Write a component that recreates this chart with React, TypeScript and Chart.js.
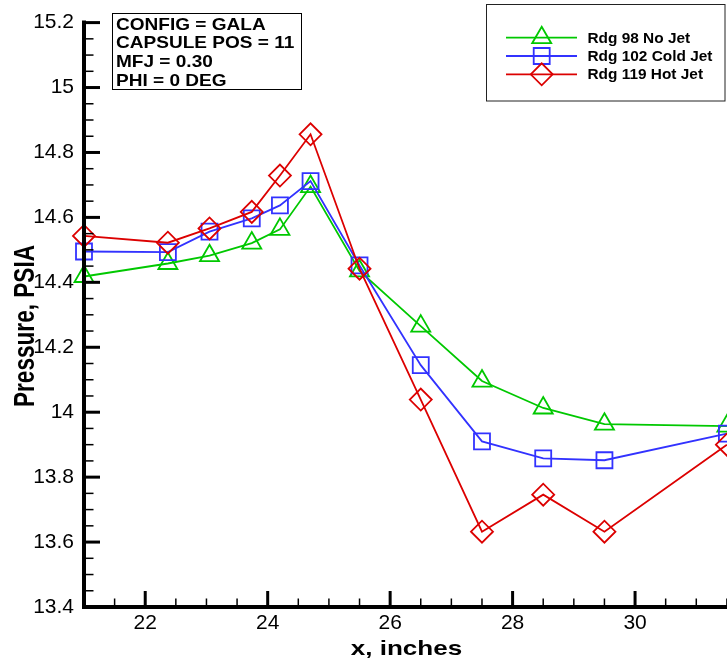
import React, { useEffect, useRef } from 'react';
import { Chart, registerables } from 'chart.js';

Chart.register(...registerables);

// Axial station of each pressure tap, inches
const xInches = [21, 22.37, 23.05, 23.74, 24.2, 24.7, 25.5, 26.5, 27.5, 28.5, 29.5, 31.5];

// Measured pressures, PSIA
const rdg98NoJet = [14.418, 14.458, 14.482, 14.521, 14.563, 14.695, 14.435, 14.265, 14.096, 14.013, 13.963, 13.957];
const rdg102ColdJet = [14.495, 14.493, 14.556, 14.597, 14.637, 14.712, 14.452, 14.145, 13.91, 13.858, 13.852, 13.934];
const rdg119HotJet = [14.543, 14.522, 14.566, 14.617, 14.729, 14.856, 14.442, 14.039, 13.632, 13.746, 13.632, 13.9];

const seriesLabels = ['Rdg 98 No Jet', 'Rdg 102 Cold Jet', 'Rdg 119 Hot Jet'];
const seriesColors = ['rgb(0,200,0)', 'rgb(50,50,255)', 'rgb(220,0,0)'];
const seriesMarkers = ['triangle', 'rect', 'rectRot'];
const seriesMarkerRadius = [11, 11.3, 11];

const infoLines = ['CONFIG = GALA', 'CAPSULE POS = 11', 'MFJ = 0.30', 'PHI = 0 DEG'];
const xTitle = 'x, inches';
const yTitle = 'Pressure, PSIA';

const xRange = [21, 31.5];
const yRange = [13.4, 15.2];
const xMinorStep = 0.5;
const yMinorStep = 0.05;

const FONT = '"Liberation Sans", Arial, Helvetica, sans-serif';

const isMajorX = (v: number) => Math.abs(v - Math.round(v)) < 1e-6 && Math.round(v) % 2 === 0;
const isMajorY = (v: number) => Math.abs(v * 5 - Math.round(v * 5)) < 1e-6;

function drawMarker(ctx: CanvasRenderingContext2D, style: string, x: number, y: number, r: number) {
  ctx.beginPath();
  if (style === 'triangle') {
    const a1 = (2 * Math.PI) / 3;
    const a2 = (4 * Math.PI) / 3;
    ctx.moveTo(x, y - r);
    ctx.lineTo(x + r * Math.sin(a1), y - r * Math.cos(a1));
    ctx.lineTo(x + r * Math.sin(a2), y - r * Math.cos(a2));
    ctx.closePath();
  } else if (style === 'rect') {
    const s = r * Math.SQRT1_2;
    ctx.rect(x - s, y - s, 2 * s, 2 * s);
  } else {
    ctx.moveTo(x - r, y);
    ctx.lineTo(x, y - r);
    ctx.lineTo(x + r, y);
    ctx.lineTo(x, y + r);
    ctx.closePath();
  }
  ctx.stroke();
}

function stretchedText(
  ctx: CanvasRenderingContext2D,
  text: string,
  x: number,
  y: number,
  font: string,
  sx: number,
  align: CanvasTextAlign = 'left',
  rotate = 0
) {
  ctx.save();
  ctx.translate(x, y);
  ctx.scale(sx, 1);
  if (rotate) ctx.rotate(rotate);
  ctx.font = font;
  ctx.textAlign = align;
  ctx.textBaseline = 'alphabetic';
  ctx.fillStyle = '#000';
  ctx.fillText(text, 0, 0);
  ctx.restore();
}

// Inward tick marks, heavy axes, titles, info box and legend
const decorations = {
  id: 'decorations',
  afterDatasetsDraw(chart: any) {
    const { ctx, chartArea: a, scales } = chart;
    const xs = scales.x;
    const ys = scales.y;
    ctx.save();
    ctx.strokeStyle = '#000';
    ctx.lineCap = 'butt';
    xs.ticks.forEach((t: any) => {
      if (t.value <= xRange[0]) return;
      const px = xs.getPixelForValue(t.value);
      const major = isMajorX(t.value);
      ctx.lineWidth = major ? 3 : 1.5;
      ctx.beginPath();
      ctx.moveTo(px, a.bottom);
      ctx.lineTo(px, a.bottom - (major ? 16 : 8.5));
      ctx.stroke();
    });
    ys.ticks.forEach((t: any) => {
      if (t.value <= yRange[0] + 1e-9) return;
      const py = ys.getPixelForValue(t.value);
      const major = isMajorY(t.value);
      ctx.lineWidth = major ? 3 : 1.5;
      ctx.beginPath();
      ctx.moveTo(a.left, py);
      ctx.lineTo(a.left + (major ? 16 : 9.5), py);
      ctx.stroke();
    });
    ctx.lineWidth = 4;
    ctx.lineCap = 'square';
    ctx.beginPath();
    ctx.moveTo(a.left, a.top);
    ctx.lineTo(a.left, a.bottom);
    ctx.lineTo(a.right + 20, a.bottom);
    ctx.stroke();
    ctx.restore();
  },
  afterDraw(chart: any) {
    const { ctx, chartArea: a } = chart;
    ctx.save();

    // axis titles
    stretchedText(ctx, xTitle, (a.left + a.right) / 2 + 1, 655, `bold 21px ${FONT}`, 1.24, 'center');
    stretchedText(ctx, yTitle, 33.5, 326, `bold 22.6px ${FONT}`, 1.27, 'center', -Math.PI / 2);

    // run conditions box
    ctx.strokeStyle = '#000';
    ctx.lineWidth = 1;
    ctx.strokeRect(112.5, 13.5, 189, 76);
    infoLines.forEach((line, i) => {
      stretchedText(ctx, line, 116, 29.5 + i * 18.7, `bold 17px ${FONT}`, 1.12);
    });

    // legend
    ctx.strokeStyle = '#222';
    ctx.lineWidth = 1;
    ctx.strokeRect(486.5, 4.5, 238.5, 96.5);
    seriesLabels.forEach((label, i) => {
      const ly = 37.7 + i * 18.3;
      ctx.strokeStyle = seriesColors[i];
      ctx.lineWidth = 1.8;
      ctx.beginPath();
      ctx.moveTo(506, ly);
      ctx.lineTo(577, ly);
      ctx.stroke();
      ctx.lineWidth = 1.8;
      drawMarker(ctx, seriesMarkers[i], 541.7, ly, seriesMarkerRadius[i]);
      stretchedText(ctx, label, 587.5, ly + 5, `bold 14px ${FONT}`, 1.1);
    });
    ctx.restore();
  },
};

function toPoints(ys: number[]) {
  return ys.map((y, i) => ({ x: xInches[i], y }));
}

export default function App() {
  const canvasRef = useRef<HTMLCanvasElement | null>(null);

  useEffect(() => {
    if (!canvasRef.current) return;
    Chart.defaults.font.family = FONT;
    const series = [rdg98NoJet, rdg102ColdJet, rdg119HotJet];
    const chart = new Chart(canvasRef.current, {
      type: 'line',
      data: {
        datasets: series.map((ys, i) => ({
          label: seriesLabels[i],
          data: toPoints(ys),
          borderColor: seriesColors[i],
          borderWidth: 1.8,
          pointStyle: seriesMarkers[i] as any,
          pointRadius: seriesMarkerRadius[i],
          pointBorderColor: seriesColors[i],
          pointBackgroundColor: 'rgba(0,0,0,0)',
          pointBorderWidth: 1.8,
          tension: 0,
          fill: false,
          clip: false as any,
          order: 3 - i,
        })),
      },
      options: {
        animation: false,
        responsive: false,
        events: [],
        layout: { padding: { top: 17, right: 8, left: 0, bottom: 0 } },
        plugins: {
          legend: { display: false },
          tooltip: { enabled: false },
          title: { display: false },
        },
        scales: {
          x: {
            type: 'linear',
            min: xRange[0],
            max: xRange[1],
            grid: { display: false, drawTicks: false },
            border: { display: false },
            afterFit: (s: any) => {
              s.height = 54;
            },
            ticks: {
              stepSize: xMinorStep,
              maxTicksLimit: 200,
              autoSkip: false,
              maxRotation: 0,
              padding: 4,
              color: '#000',
              font: { size: 21, family: FONT },
              callback: (v: any) => (isMajorX(Number(v)) ? String(Math.round(Number(v))) : ''),
            },
          },
          y: {
            type: 'linear',
            min: yRange[0],
            max: yRange[1],
            grid: { display: false, drawTicks: false },
            border: { display: false },
            afterFit: (s: any) => {
              s.width = 84;
            },
            ticks: {
              stepSize: yMinorStep,
              maxTicksLimit: 200,
              autoSkip: false,
              padding: 10,
              color: '#000',
              font: { size: 21, family: FONT },
              callback: (v: any) => (isMajorY(Number(v)) ? String(+Number(v).toFixed(1)) : ''),
            },
          },
        },
      },
      plugins: [decorations],
    });
    return () => chart.destroy();
  }, []);

  return (
    <div
      style={{
        position: 'fixed',
        left: 0,
        top: 0,
        width: 727,
        height: 661,
        overflow: 'hidden',
        background: '#fff',
      }}
    >
      <canvas ref={canvasRef} width={740} height={661} style={{ width: 740, height: 661, display: 'block' }} />
    </div>
  );
}
